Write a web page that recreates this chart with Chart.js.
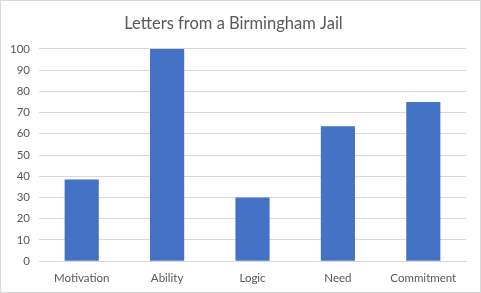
<!DOCTYPE html>
<html>
<head>
<meta charset="utf-8">
<script src="https://cdn.jsdelivr.net/npm/chart.js@4"></script>
<style>
  html, body { margin: 0; padding: 0; background: #fff; }
  #wrap { width: 479px; height: 291px; border: 1px solid #d9d9d9; }
</style>
</head>
<body>
<div id="wrap"><canvas id="dataChart" width="479" height="291"></canvas></div>
<script>
// chart data
const categories = ['Motivation', 'Ability', 'Logic', 'Need', 'Commitment'];
const scores = [38.5, 100, 30, 63.5, 75];
const yTicks = [0, 10, 20, 30, 40, 50, 60, 70, 80, 90, 100];

const ctx = document.getElementById('dataChart').getContext('2d');
const chart = new Chart(ctx, {
  type: 'bar',
  data: {
    labels: categories,
    datasets: [{
      label: 'Score',
      data: scores,
      backgroundColor: '#4472c4',
      borderWidth: 0,
      categoryPercentage: 1,
      barPercentage: 0.4
    }]
  },
  options: {
    responsive: false,
    animation: false,
    layout: { padding: { left: 0, right: 14, top: 0, bottom: -3 } },
    plugins: {
      legend: { display: false },
      tooltip: { enabled: false },
      title: {
        display: true,
        text: 'Letters from a Birmingham Jail',
        color: '#595959',
        font: { family: 'Lato', size: 16.5, weight: 'normal' },
        padding: { top: 13, bottom: 15 }
      }
    },
    scales: {
      x: {
        grid: { display: false, drawTicks: false, tickLength: 0 },
        border: { display: true, color: '#d9d9d9' },
        ticks: { color: '#595959', font: { family: 'Lato', size: 11.5 }, padding: 10 }
      },
      y: {
        min: 0,
        max: 100,
        afterBuildTicks: axis => { axis.ticks = yTicks.map(v => ({ value: v })); },
        grid: { color: '#d9d9d9', drawTicks: false, tickLength: 0 },
        border: { display: false },
        ticks: { color: '#595959', font: { family: 'Lato', size: 11.5 }, padding: 9 }
      }
    }
  }
});
</script>
</body>
</html>
